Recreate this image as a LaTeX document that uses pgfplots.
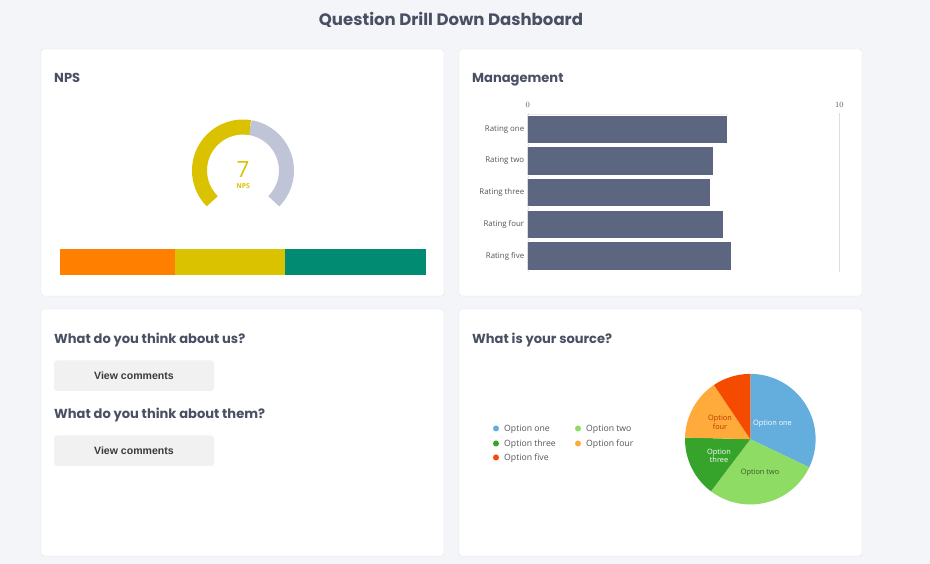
\documentclass[border=0pt]{standalone}
\usepackage{pgfplots}
\pgfplotsset{compat=1.18}
\usepackage{fontspec}
\setmainfont{Open Sans}
\newfontfamily\hfont{Poppins}
\newfontfamily\bfont{Liberation Sans}

\definecolor{bg}{HTML}{F4F5F9}
\definecolor{cardline}{HTML}{E2E3E7}
\definecolor{head}{HTML}{4A5063}
\definecolor{btn}{HTML}{F1F1F1}
\definecolor{btntext}{HTML}{3A3A3A}
\definecolor{npsorange}{HTML}{FF7F00}
\definecolor{npsyellow}{HTML}{DAC200}
\definecolor{npsteal}{HTML}{008B72}
\definecolor{gaugegrey}{HTML}{BFC4D6}
\definecolor{barcol}{HTML}{5D6680}
\definecolor{pone}{HTML}{64AEDD}
\definecolor{ptwo}{HTML}{8EDC64}
\definecolor{pthree}{HTML}{36A32B}
\definecolor{pfour}{HTML}{FFAB3C}
\definecolor{pfive}{HTML}{F54B00}
\definecolor{lbl}{HTML}{555555}

% NPS split (%): detractors, passives, promoters
\def\detr{31.5}\def\pass{30}\def\prom{38.5}
\def\npsval{7}
\pgfmathsetmacro\npsang{225-1.35*(\npsval+100)}

% source shares (%)
\def\srcA{32.1}\def\srcB{28.2}\def\srcC{15.1}\def\srcD{15.2}\def\srcE{9.4}
\pgfmathsetmacro\angA{90-3.6*\srcA}
\pgfmathsetmacro\angB{\angA-3.6*\srcB}
\pgfmathsetmacro\angC{\angB-3.6*\srcC}
\pgfmathsetmacro\angD{\angC-3.6*\srcD}
\pgfmathsetmacro\angE{\angD-3.6*\srcE}

\begin{document}
\begin{tikzpicture}[x=1bp,y=1bp]
\fill[bg] (0,0) rectangle (930,564);

% cards
\foreach \cx/\cy in {41/268, 459/268, 41/8, 459/8}
  \draw[cardline, fill=white, rounded corners=3bp] (\cx,\cy) rectangle ++(403,247);

\node[anchor=base, inner sep=0, text=head, font=\hfont\bfseries\fontsize{16.6}{19}\selectfont] at (451,538.5) {Question Drill Down Dashboard};

\tikzset{hd/.style={anchor=base west, inner sep=0, text=head, font=\hfont\bfseries\fontsize{13.1}{15}\selectfont}}
\node[hd] at (54,481.3) {NPS};
\node[hd] at (472,481.3) {Management};
\node[hd] at (54,220.3) {What do you think about us?};
\node[hd] at (472,220.3) {What is your source?};
\node[hd] at (54,145.3) {What do you think about them?};

% buttons
\foreach \by in {173, 98}{
  \fill[btn, rounded corners=3bp] (54,\by) rectangle ++(160,30.5);
  \node[text=btntext, font=\bfont\bfseries\fontsize{10.6}{12}\selectfont] at (134,\by+15.3) {View comments};
}

% NPS gauge
\begin{axis}[at={(243bp,393.5bp)}, anchor=center, scale only axis,
  width=110bp, height=110bp, xmin=-55, xmax=55, ymin=-55, ymax=55,
  hide axis, clip=false]
\draw[gaugegrey, line width=15bp] (axis cs:0,0) ++(\npsang:43.5bp) arc[start angle=\npsang, end angle=-45, radius=43.5bp];
\draw[npsyellow, line width=15bp] (axis cs:0,0) ++(225:43.5bp) arc[start angle=225, end angle=\npsang, radius=43.5bp];
\node[text=npsyellow, font=\fontsize{22.5}{23}\selectfont] at (axis cs:0,1) {\npsval};
\node[text=npsyellow, font=\bfseries\fontsize{6.8}{7}\selectfont] at (axis cs:0,-15.5) {NPS};
\end{axis}

% NPS split bar
\begin{axis}[at={(60bp,289bp)}, anchor=south west, scale only axis,
  width=366bp, height=26bp, xbar stacked, bar width=26bp,
  xmin=0, xmax=100, ymin=0, ymax=1, hide axis, clip=false]
\addplot[fill=npsorange, draw=none] coordinates {(\detr,0.5)};
\addplot[fill=npsyellow, draw=none] coordinates {(\pass,0.5)};
\addplot[fill=npsteal, draw=none] coordinates {(\prom,0.5)};
\end{axis}

% Management
\begin{axis}[at={(527.7bp,292.2bp)}, anchor=south west, scale only axis,
  width=311.6bp, height=158.5bp, xbar, bar width=28.3bp,
  xmin=0, xmax=10, ymin=0.5, ymax=5.5, y dir=reverse,
  xtick={0,10}, xticklabel pos=upper, ytick={1,...,5},
  yticklabels={Rating one,Rating two,Rating three,Rating four,Rating five},
  axis line style={draw=none}, major tick length=0pt,
  xmajorgrids, grid style={draw=black!13},
  tick label style={font=\fontsize{7.9}{9}\selectfont, text=lbl},
  xticklabel style={yshift=2bp}]
\addplot[fill=barcol, draw=white, line width=0.6bp] coordinates {(6.41,1) (5.96,2) (5.87,3) (6.28,4) (6.53,5)};
\end{axis}

% source pie
\begin{axis}[at={(750.3bp,124.8bp)}, anchor=center, scale only axis,
  width=140bp, height=140bp, xmin=-70, xmax=70, ymin=-70, ymax=70,
  hide axis, clip=false]
\fill[pone] (axis cs:0,0) -- ++(90:65.3bp) arc[start angle=90, end angle=\angA, radius=65.3bp] -- cycle;
\fill[ptwo] (axis cs:0,0) -- ++(\angA:65.3bp) arc[start angle=\angA, end angle=\angB, radius=65.3bp] -- cycle;
\fill[pthree] (axis cs:0,0) -- ++(\angB:65.3bp) arc[start angle=\angB, end angle=\angC, radius=65.3bp] -- cycle;
\fill[pfour] (axis cs:0,0) -- ++(\angC:65.3bp) arc[start angle=\angC, end angle=\angD, radius=65.3bp] -- cycle;
\fill[pfive] (axis cs:0,0) -- ++(\angD:65.3bp) arc[start angle=\angD, end angle=\angE, radius=65.3bp] -- cycle;
\end{axis}

\tikzset{pl/.style={font=\fontsize{7.4}{8.7}\selectfont, align=center, inner sep=0}}
\node[pl, text=white] at (772.5,140) {Option one};
\node[pl, text=black!60!ptwo] at (760,91.7) {Option two};
\node[pl, text=white] at (719,108.2) {Option\\three};
\node[pl, text=black!25!pfive] at (720,141.5) {Option\\four};

% pie legend
\tikzset{ld/.style={circle, inner sep=0, minimum size=6bp}, lt/.style={anchor=west, inner sep=0, text=lbl, font=\fontsize{8.7}{10}\selectfont}}
\node[ld, fill=pone] at (496,135.5) {}; \node[lt] at (504,135) {Option one};
\node[ld, fill=ptwo] at (578,135.5) {}; \node[lt] at (586,135) {Option two};
\node[ld, fill=pthree] at (496,120.5) {}; \node[lt] at (504,120) {Option three};
\node[ld, fill=pfour] at (578,120.5) {}; \node[lt] at (586,120) {Option four};
\node[ld, fill=pfive] at (496,106.5) {}; \node[lt] at (504,106) {Option five};
\end{tikzpicture}
\end{document}
